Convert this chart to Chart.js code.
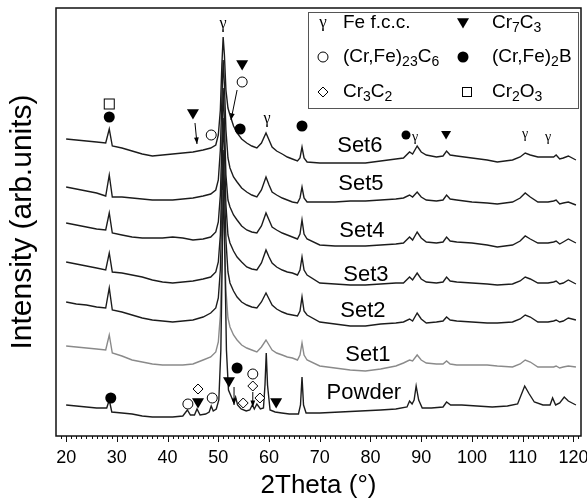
<!DOCTYPE html>
<html>
<head>
<meta charset="utf-8">
<script src="https://cdn.jsdelivr.net/npm/chart.js@4.4.1/dist/chart.umd.min.js"></script>
<style>
  html, body { margin: 0; padding: 0; background: #fff; }
  canvas { display: block; }
</style>
</head>
<body>
<canvas id="xrd" width="587" height="500"></canvas>
<script>
// 2-theta positions shared by the six coating scans (degrees)
const twoTheta = [20, 22, 24, 26, 27.8, 28.5, 29.1, 31, 33, 35,
    37, 39, 41, 43, 45, 47, 48.5, 49.5, 50.0, 50.4,
    50.7, 50.95, 51.2, 51.5, 51.9, 52.3, 53.0, 53.7, 54.6, 55.6,
    56.6, 57.6, 58.5, 59.4, 60.0, 60.6, 61.5, 62.6, 63.6, 64.6,
    65.6, 66.1, 66.5, 66.9, 67.5, 70, 73, 76, 79, 82,
    85, 86.5, 87.7, 88.3, 89.2, 90.0, 91, 93, 94.3, 95.0,
    95.7, 97, 100, 103, 105, 108, 109.5, 110.5, 111.5, 113,
    115, 116.1, 116.6, 117.3, 118, 119, 120.5];

// intensities (arb. units, already stacked with offsets as in the figure)
const set6 = [297, 296, 295, 294, 293, 307, 290, 288, 285, 282,
    280, 281, 282, 283, 284, 286, 288, 291, 301, 326,
    371, 399, 381, 346, 328, 321, 310, 303, 297, 293,
    290, 288, 293, 303, 296, 289, 285, 282, 279, 277,
    275, 278, 289, 278, 274, 273, 273, 273, 273, 275,
    277, 278, 284, 282, 290, 284, 281, 279, 280, 285,
    281, 280, 278, 276, 274, 276, 279, 283, 281, 279,
    279, 279, 281, 277, 278, 280, 276];
const set5 = [249, 247, 245, 243, 240, 261, 239, 239, 238, 237,
    236, 236, 236, 237, 238, 240, 242, 246, 256, 286,
    336, 376, 351, 306, 278, 268, 259, 254, 248, 244,
    241, 239, 246, 259, 251, 244, 241, 238, 236, 234,
    233, 238, 249, 238, 234, 234, 234, 235, 235, 236,
    237, 238, 241, 239, 244, 239, 236, 235, 236, 241,
    237, 236, 234, 233, 232, 234, 238, 243, 239, 234,
    234, 235, 236, 232, 233, 234, 231];
const set4 = [213, 211, 209, 207, 206, 223, 203, 201, 199, 198,
    198, 198, 199, 198, 196, 197, 199, 204, 214, 241,
    291, 348, 316, 261, 236, 229, 221, 216, 210, 206,
    204, 203, 210, 223, 216, 209, 206, 203, 201, 199,
    197, 202, 216, 202, 197, 191, 190, 190, 190, 191,
    192, 193, 199, 196, 204, 198, 194, 193, 194, 199,
    195, 194, 193, 191, 189, 191, 195, 200, 197, 193,
    193, 194, 195, 192, 194, 197, 193];
const set3 = [174, 172, 170, 168, 166, 183, 164, 163, 161, 159,
    156, 154, 153, 154, 155, 157, 159, 164, 174, 201,
    256, 318, 286, 231, 201, 193, 185, 179, 174, 169,
    167, 166, 173, 186, 179, 173, 169, 166, 164, 163,
    161, 166, 179, 166, 161, 153, 152, 151, 151, 152,
    153, 153, 159, 156, 163, 157, 154, 153, 154, 159,
    155, 154, 153, 152, 151, 152, 155, 159, 157, 153,
    153, 154, 155, 152, 153, 156, 152];
const set2 = [134, 132, 131, 129, 128, 148, 126, 124, 121, 118,
    116, 115, 114, 115, 116, 119, 123, 128, 138, 166,
    221, 286, 251, 196, 164, 153, 145, 139, 134, 131,
    129, 128, 134, 143, 137, 131, 127, 124, 122, 121,
    120, 125, 139, 125, 121, 114, 112, 110, 110, 112,
    113, 114, 117, 115, 123, 117, 113, 114, 115, 119,
    116, 115, 114, 113, 113, 114, 117, 121, 119, 114,
    114, 115, 116, 114, 115, 118, 116];
const set1 = [90, 89, 88, 87, 86, 101, 83, 80, 76, 74,
    72, 71, 71, 71, 72, 76, 79, 84, 94, 121,
    176, 246, 206, 146, 118, 109, 101, 96, 91, 88,
    86, 84, 89, 96, 91, 86, 83, 81, 79, 78,
    76, 81, 93, 81, 76, 70, 68, 66, 65, 67,
    70, 73, 76, 75, 81, 76, 73, 72, 72, 75,
    72, 71, 71, 71, 70, 69, 72, 76, 74, 69,
    69, 69, 70, 68, 69, 70, 69];

// the feed powder has extra carbide / boride peaks, so its own x grid
const powderTheta = [20, 22, 24, 26, 28.0, 28.5, 29.0, 31, 33, 35,
    37, 39, 41, 43, 43.9, 44.5, 45.3, 45.8, 46.4, 47.5,
    48.2, 48.6, 49.0, 49.6, 50.1, 50.5, 50.8, 51.0, 51.3, 51.6,
    52.0, 52.5, 53.0, 53.4, 53.8, 54.5, 55.5, 56.2, 56.7, 57.1,
    57.6, 58.3, 58.9, 59.2, 59.45, 59.7, 60.2, 61.2, 62.5, 64,
    65.8, 66.2, 66.5, 66.8, 67.3, 70, 74, 78, 82, 85,
    87.2, 87.7, 88.2, 88.6, 89.0, 89.5, 90.2, 92, 94.3, 95.0,
    95.8, 98, 101, 104, 107, 109, 110.4, 111.3, 112.3, 114,
    115.4, 115.9, 116.5, 117.3, 118.2, 119, 120.5];
const powder = [31, 30, 29, 28, 28, 36, 24, 23, 22, 20,
    19, 19, 19, 20, 26, 21, 21, 27, 21, 22,
    24, 30, 25, 27, 36, 86, 186, 266, 176, 86,
    46, 40, 34, 39, 31, 27, 25, 26, 31, 27,
    32, 27, 28, 51, 83, 51, 26, 24, 23, 22,
    22, 31, 59, 31, 23, 23, 24, 25, 26, 27,
    29, 35, 32, 36, 50, 36, 28, 28, 29, 34,
    31, 31, 30, 29, 30, 32, 50, 42, 34, 31,
    31, 38, 31, 33, 39, 35, 31];

const xTicks = [20, 30, 40, 50, 60, 70, 80, 90, 100, 110, 120];

const traces = [
    { label: 'Powder', theta: powderTheta, values: powder, color: '#1c1c1c' },
    { label: 'Set1', theta: twoTheta, values: set1, color: '#8a8a8a' },
    { label: 'Set2', theta: twoTheta, values: set2, color: '#1c1c1c' },
    { label: 'Set3', theta: twoTheta, values: set3, color: '#1c1c1c' },
    { label: 'Set4', theta: twoTheta, values: set4, color: '#1c1c1c' },
    { label: 'Set5', theta: twoTheta, values: set5, color: '#1c1c1c' },
    { label: 'Set6', theta: twoTheta, values: set6, color: '#1c1c1c' }
];

// trace names, placed at (2theta, intensity)
const traceNames = [
    ['Set6', 77.9, 290], ['Set5', 78.1, 252], ['Set4', 78.3, 205], ['Set3', 79.1, 161],
    ['Set2', 78.5, 125], ['Set1', 79.5, 81], ['Powder', 78.7, 43]
];

// phase markers: [kind, 2theta, intensity, size]
const phaseMarks = [
    ['square', 28.5, 332, 11], ['dot', 28.5, 319, 11],
    ['tri', 45.0, 322, 12], ['circle', 48.6, 301, 10],
    ['gamma', 50.93, 412, 16],
    ['tri', 54.7, 371, 12], ['circle', 54.7, 354, 10], ['dot', 54.3, 307, 11],
    ['gamma', 59.6, 317, 16], ['dot', 66.5, 310, 11],
    ['dot', 87.0, 301, 9], ['gamma', 88.8, 299, 14], ['tri', 94.9, 301, 10],
    ['gamma', 110.5, 302, 14], ['gamma', 115.0, 299, 14],
    ['dot', 28.8, 38, 11], ['diamond', 46.0, 47, 10], ['circle', 44.0, 32, 10],
    ['tri', 46.0, 33, 12], ['circle', 48.8, 38, 10], ['tri', 52.1, 54, 12],
    ['dot', 53.7, 68, 11], ['diamond', 54.9, 33, 10], ['circle', 56.8, 62, 10],
    ['diamond', 56.8, 50, 10], ['diamond', 58.2, 38, 10], ['tri', 61.4, 33, 12]
];
// arrows: [from 2theta, from intensity, to 2theta, to intensity]
const phaseArrows = [
    [45.4, 313, 45.8, 292], [53.7, 346, 52.5, 316],
    [53.1, 49, 53.1, 31], [56.8, 44, 56.8, 29]
];

function drawSymbol(ctx, kind, px, py, s) {
    ctx.save();
    ctx.lineWidth = 1;
    ctx.strokeStyle = '#000';
    ctx.fillStyle = '#000';
    const r = s / 2;
    if (kind === 'dot') {
        ctx.beginPath(); ctx.arc(px, py, r, 0, Math.PI * 2); ctx.fill();
    } else if (kind === 'circle') {
        ctx.fillStyle = '#fff';
        ctx.beginPath(); ctx.arc(px, py, r, 0, Math.PI * 2); ctx.fill(); ctx.stroke();
    } else if (kind === 'tri') {
        ctx.beginPath();
        ctx.moveTo(px - r, py - r * 0.8);
        ctx.lineTo(px + r, py - r * 0.8);
        ctx.lineTo(px, py + r * 0.9);
        ctx.closePath(); ctx.fill();
    } else if (kind === 'diamond') {
        ctx.fillStyle = '#fff';
        ctx.beginPath();
        ctx.moveTo(px, py - r); ctx.lineTo(px + r, py); ctx.lineTo(px, py + r); ctx.lineTo(px - r, py);
        ctx.closePath(); ctx.fill(); ctx.stroke();
    } else if (kind === 'square') {
        ctx.fillStyle = '#fff';
        ctx.fillRect(px - r, py - r, s, s);
        ctx.strokeRect(px - r + 0.5, py - r + 0.5, s - 1, s - 1);
    } else if (kind === 'gamma') {
        ctx.font = s + 'px "Liberation Serif", "DejaVu Serif", serif';
        ctx.textAlign = 'center';
        ctx.textBaseline = 'middle';
        ctx.fillText('γ', px, py);
    }
    ctx.restore();
}

function drawArrow(ctx, x1, y1, x2, y2) {
    const ang = Math.atan2(y2 - y1, x2 - x1);
    ctx.save();
    ctx.strokeStyle = '#000';
    ctx.fillStyle = '#000';
    ctx.lineWidth = 1;
    ctx.beginPath(); ctx.moveTo(x1, y1); ctx.lineTo(x2, y2); ctx.stroke();
    ctx.beginPath();
    ctx.moveTo(x2, y2);
    ctx.lineTo(x2 - 7 * Math.cos(ang - 0.35), y2 - 7 * Math.sin(ang - 0.35));
    ctx.lineTo(x2 - 7 * Math.cos(ang + 0.35), y2 - 7 * Math.sin(ang + 0.35));
    ctx.closePath(); ctx.fill();
    ctx.restore();
}

// text with subscripts, parts = [[text, isSub], ...]
function drawChem(ctx, parts, x, y) {
    let cx = x;
    parts.forEach(([txt, sub]) => {
        ctx.font = (sub ? 14 : 19) + 'px "Liberation Sans", Arial, sans-serif';
        ctx.fillText(txt, cx, sub ? y + 5 : y);
        cx += ctx.measureText(txt).width;
    });
}

const decorations = {
    id: 'decorations',
    afterDatasetsDraw(chart) {
        const { ctx, chartArea: a, scales: { x, y } } = chart;
        ctx.save();

        // frame
        ctx.strokeStyle = '#111';
        ctx.lineWidth = 1.5;
        ctx.strokeRect(a.left, a.top, a.right - a.left, a.bottom - a.top);

        // tick marks below the axis, major every 10, minor every 1
        ctx.lineWidth = 1;
        for (let v = 19; v <= 121; v++) {
            const px = Math.round(x.getPixelForValue(v)) + 0.5;
            const len = v % 10 === 0 ? 6 : 3;
            ctx.beginPath();
            ctx.moveTo(px, a.bottom);
            ctx.lineTo(px, a.bottom + len);
            ctx.stroke();
        }

        // trace names
        ctx.fillStyle = '#000';
        ctx.font = '22px "Liberation Sans", Arial, sans-serif';
        ctx.textAlign = 'center';
        ctx.textBaseline = 'middle';
        traceNames.forEach(([name, t, v]) => {
            ctx.fillText(name, x.getPixelForValue(t), y.getPixelForValue(v));
        });

        phaseArrows.forEach(([t1, v1, t2, v2]) => {
            drawArrow(ctx, x.getPixelForValue(t1), y.getPixelForValue(v1),
                x.getPixelForValue(t2), y.getPixelForValue(v2));
        });
        phaseMarks.forEach(([kind, t, v, s]) => {
            drawSymbol(ctx, kind, x.getPixelForValue(t), y.getPixelForValue(v), s);
        });

        // phase key box in the top right corner
        const bx = a.right - 273, by = a.top + 4, bw = 270, bh = 96;
        ctx.fillStyle = '#fff';
        ctx.fillRect(bx, by, bw, bh);
        ctx.strokeStyle = '#555';
        ctx.lineWidth = 1;
        ctx.strokeRect(bx + 0.5, by + 0.5, bw, bh);

        const rows = [by + 11, by + 45, by + 80];
        const c1 = bx + 15, t1 = bx + 35, c2 = bx + 155, t2 = bx + 184;
        drawSymbol(ctx, 'gamma', c1, rows[0], 17);
        drawSymbol(ctx, 'circle', c1, rows[1], 10);
        drawSymbol(ctx, 'diamond', c1, rows[2], 10);
        drawSymbol(ctx, 'tri', c2, rows[0], 12);
        drawSymbol(ctx, 'dot', c2, rows[1], 11);
        drawSymbol(ctx, 'square', c2 + 4, rows[2], 10);

        ctx.fillStyle = '#000';
        ctx.textAlign = 'left';
        ctx.textBaseline = 'middle';
        drawChem(ctx, [['Fe f.c.c.', false]], t1, rows[0]);
        drawChem(ctx, [['(Cr,Fe)', false], ['23', true], ['C', false], ['6', true]], t1, rows[1]);
        drawChem(ctx, [['Cr', false], ['3', true], ['C', false], ['2', true]], t1, rows[2]);
        drawChem(ctx, [['Cr', false], ['7', true], ['C', false], ['3', true]], t2, rows[0]);
        drawChem(ctx, [['(Cr,Fe)', false], ['2', true], ['B', false]], t2, rows[1]);
        drawChem(ctx, [['Cr', false], ['2', true], ['O', false], ['3', true]], t2, rows[2]);

        ctx.restore();
    }
};

new Chart(document.getElementById('xrd'), {
    type: 'line',
    data: {
        datasets: traces.map(t => ({
            label: t.label,
            data: t.theta.map((th, i) => ({ x: th, y: t.values[i] })),
            borderColor: t.color,
            borderWidth: 1.4,
            pointRadius: 0,
            tension: 0,
            fill: false
        }))
    },
    options: {
        responsive: false,
        animation: false,
        devicePixelRatio: 1,
        layout: { padding: { left: 0, right: 6, top: 8, bottom: 0 } },
        plugins: { legend: { display: false }, tooltip: { enabled: false } },
        scales: {
            x: {
                type: 'linear',
                min: 18,
                max: 121.5,
                afterBuildTicks: scale => { scale.ticks = xTicks.map(v => ({ value: v })); },
                afterFit: scale => {
                    scale.height = 64;
                    scale.paddingLeft = 0;
                    scale.paddingRight = 0;
                },
                grid: { display: false, drawTicks: false },
                border: { display: false },
                ticks: {
                    padding: 11,
                    maxRotation: 0,
                    color: '#000',
                    font: { family: '"Liberation Sans", Arial, sans-serif', size: 18 }
                },
                title: {
                    display: true,
                    text: '2Theta (°)',
                    color: '#000',
                    font: { family: '"Liberation Sans", Arial, sans-serif', size: 26, lineHeight: 1 },
                    padding: { top: 0, bottom: 1 }
                }
            },
            y: {
                min: 0,
                max: 428,
                afterFit: scale => {
                    scale.width = 56;
                    scale.paddingTop = 0;
                    scale.paddingBottom = 0;
                },
                grid: { display: false, drawTicks: false },
                border: { display: false },
                ticks: { display: false },
                title: {
                    display: true,
                    text: 'Intensity (arb.units)',
                    color: '#000',
                    font: { family: '"Liberation Sans", Arial, sans-serif', size: 30, lineHeight: 1 },
                    padding: { top: 8, bottom: 0 }
                }
            }
        }
    },
    plugins: [decorations]
});
</script>
</body>
</html>
